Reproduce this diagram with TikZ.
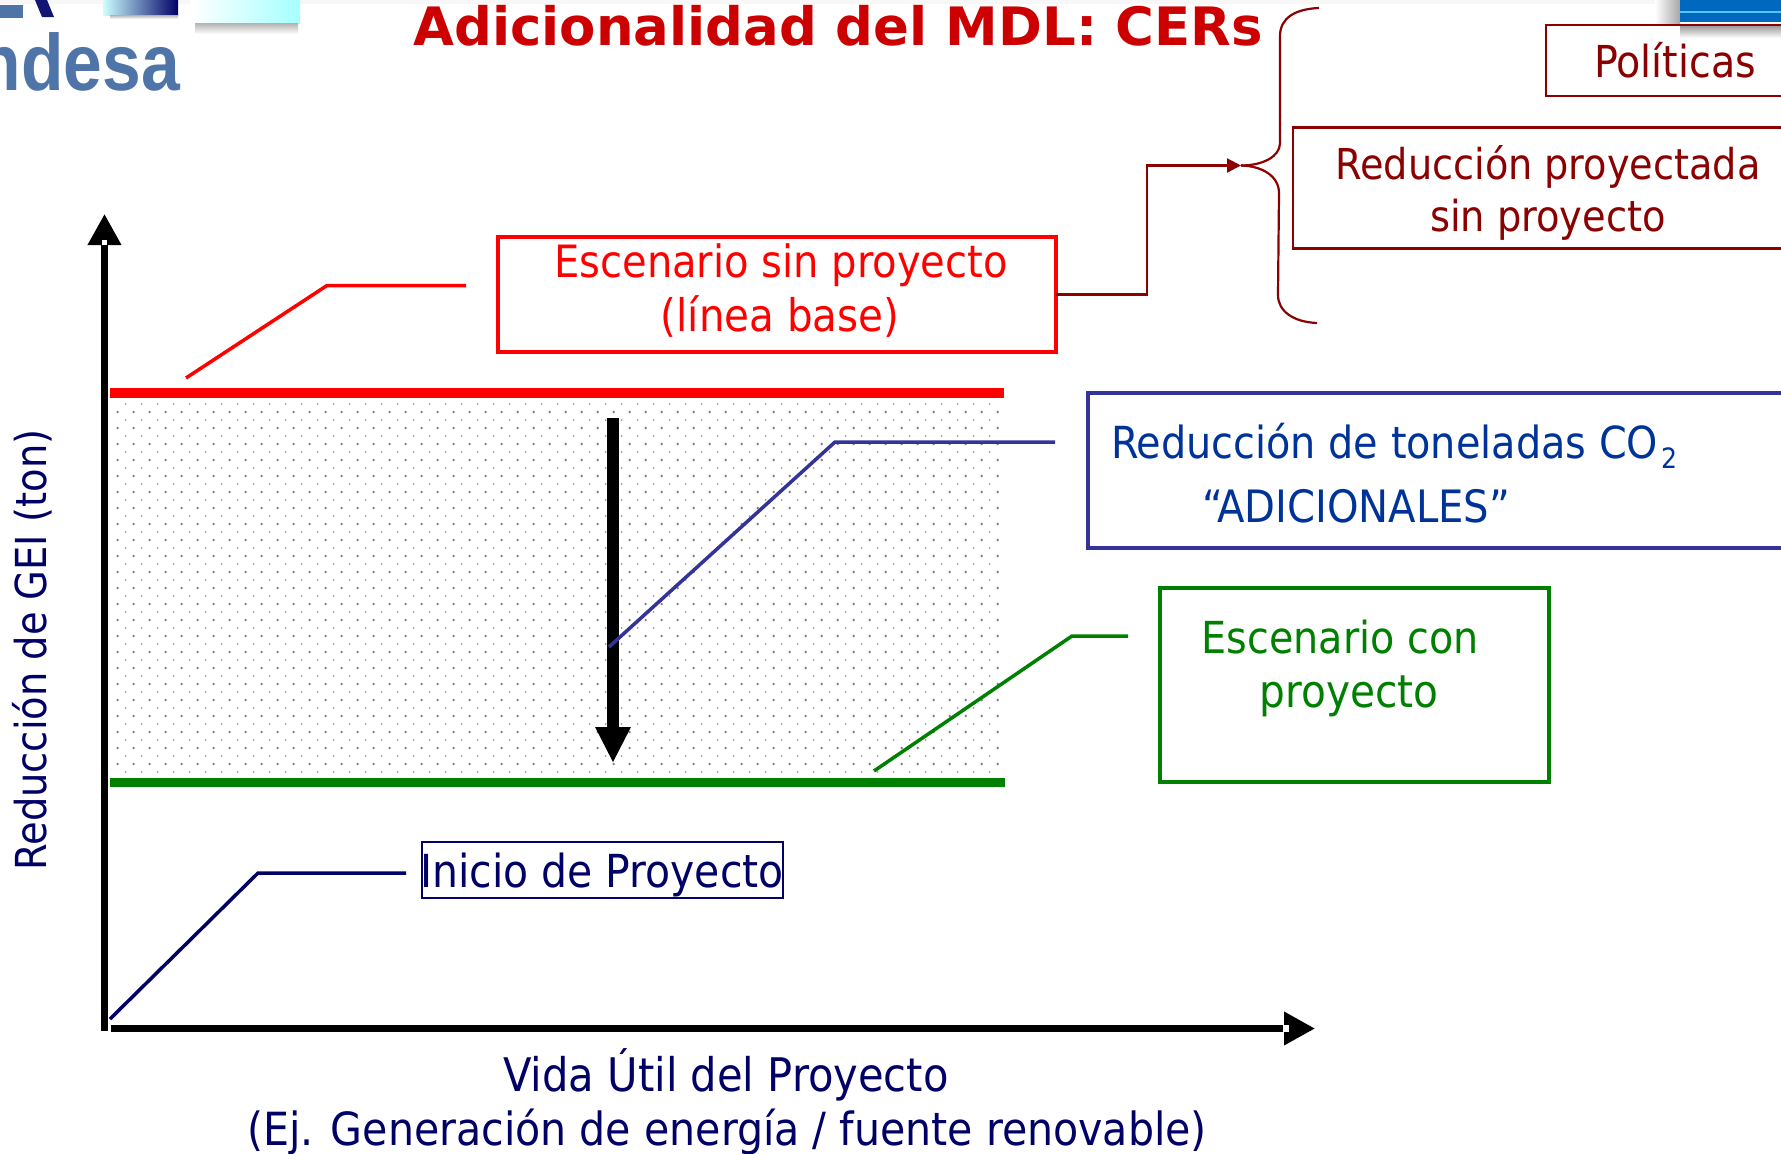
\documentclass[tikz,border=0pt]{standalone}
\usepackage{fontspec}
\setmainfont{DejaVu Sans Condensed}
\newfontfamily\titlefont{DejaVu Sans}
\newfontfamily\logofont{Liberation Sans}
\usetikzlibrary{arrows.meta,shadings}
\definecolor{cred}{HTML}{FF0000}
\definecolor{cgreen}{HTML}{008000}
\definecolor{cmaroon}{HTML}{8B0000}
\definecolor{cblue}{HTML}{333399}
\definecolor{ctextblue}{HTML}{003399}
\definecolor{cnavy}{HTML}{000066}
\definecolor{ctitle}{HTML}{CC0000}
\definecolor{clogo}{HTML}{4F74A8}
\newcommand{\fs}[1]{\fontsize{#1}{#1}\selectfont}
\tikzset{
  x=1pt,y=-1pt,
  lab/.style={inner sep=0pt,anchor=base},
  boxn/.style={draw,inner sep=0pt,outer sep=0pt,line width=3.3pt,anchor=north west},
  leader/.style={line width=3.5pt,line join=miter},
  axis/.style={line width=7pt,-{Triangle[length=31pt,width=32pt]},black},
}
\begin{document}
\begin{tikzpicture}
\clip (0,0) rectangle (1781,1154);
\fill[white] (0,0) rectangle (1781,1154);
\fill[black!3] (0,0) rectangle (1781,4);
% logo fragments
\fill[clogo] (0,5) rectangle (23,18);
\fill[cnavy!80!clogo] (35,0) -- (47,0) -- (54,17) -- (42,17) -- cycle;
\shade[left color=cyan!20!white,middle color=blue!50!cyan!70!black,right color=cnavy] (103,0) rectangle (178,15);
\shade[top color=black!30,bottom color=white] (110,15) rectangle (178,19);
\shade[left color=white,right color=cyan!35!white] (190,0) rectangle (300,23);
\shade[top color=black!30,bottom color=white] (195,23) rectangle (298,34);
\node[inner sep=0pt,anchor=base east,text=clogo] (logo) at (180,90) {\logofont\bfseries\fs{80}\scalebox{0.87}[1]{ndesa}};
% top-right image
\shade[left color=white,right color=black!35] (1655,0) rectangle (1680,24);
\fill[blue!45!cyan!75!black] (1680,0) rectangle (1781,22);
\fill[blue!35!cyan!65!white] (1680,11) rectangle (1781,13);
\shade[top color=black!45,bottom color=white] (1680,24) rectangle (1781,38);
% dotted field
\foreach \i in {0,...,55}{\foreach \j in {0,...,22}{
  \fill[black!50] (117.7+16*\i,412+16*\j) circle (1.3);
}}
\foreach \i in {0,...,54}{\foreach \j in {0,...,23}{
  \fill[black!40] (125.7+16*\i,404+16*\j) circle (1);
}}
% title
\node[lab,text=ctitle] (title) at (838,45) {\titlefont\bfseries\fs{52.9}Adicionalidad del MDL: CERs};
% axes
\coordinate (orig) at (104.5,1031);
\coordinate (ytip) at (104.5,214);
\coordinate (xstart) at (110.7,1028.5);
\coordinate (xtip) at (1315,1028.5);
\draw[axis] (orig) -- (ytip);
\fill[white] (102,240) rectangle (107,245);
\draw[axis] (xstart) -- (xtip);
\fill[white] (1283,1025.2) rectangle (1289,1031.8);
% level lines
\coordinate (ra) at (110,393); \coordinate (rb) at (1004,393);
\coordinate (ga) at (110,782.5); \coordinate (gb) at (1005,782.5);
\draw[cred,line width=9.5pt] (ra) -- (rb);
\draw[cgreen,line width=9.5pt] (ga) -- (gb);
% down arrow
\coordinate (da) at (613,418); \coordinate (db) at (613,763);
\draw[line width=12pt,-{Triangle[length=36pt,width=33pt]},black] (da) -- (db);
% boxes
\node[boxn,draw=cred,minimum width=558pt,minimum height=115pt] (base) at (498,237) {};
\node[lab,text=cred] (t1) at (781,277) {\fs{44.5}Escenario sin proyecto};
\node[lab,text=cred] (t2) at (780,331) {\fs{44.9}(línea base)};
\node[boxn,draw=cblue,line width=3.5pt,minimum width=710pt,minimum height=155pt] (red) at (1088,393) {};
\node[lab,text=ctextblue,anchor=base west] (t3) at (1111,458) {\fs{44.2}Reducción de toneladas CO\kern3pt\raisebox{-10pt}{\fs{28}2}};
\node[lab,text=ctextblue,anchor=base west] (t4) at (1202,522) {\fs{44.6}“ADICIONALES”};
\node[boxn,draw=cgreen,minimum width=389pt,minimum height=194pt] (con) at (1160,588) {};
\node[lab,text=cgreen] (t5) at (1340,653) {\fs{44.1}Escenario con};
\node[lab,text=cgreen] (t6) at (1349,707.5) {\fs{45.2}proyecto};
\node[boxn,draw=cnavy,line width=2pt,minimum width=361pt,minimum height=56pt] (ini) at (422,842) {};
\node[lab,text=cnavy] (t7) at (602,887) {\fs{45.5}Inicio de Proyecto};
\node[boxn,draw=cmaroon,line width=2.5pt,minimum width=320pt,minimum height=71pt] (pol) at (1546,25) {};
\node[lab,text=cmaroon] (t8) at (1675,77) {\fs{44}Políticas};
\node[boxn,draw=cmaroon,line width=2.5pt,minimum width=530pt,minimum height=121pt] (sin) at (1293,127.5) {};
\node[lab,text=cmaroon] (t9) at (1548,179) {\fs{42.5}Reducción proyectada};
\node[lab,text=cmaroon] (t10) at (1548,231) {\fs{42.7}sin proyecto};
% leaders
\coordinate (l1a) at (186,378); \coordinate (l1b) at (327,285.5); \coordinate (l1c) at (466,285.5);
\draw[leader,cred] (l1a) -- (l1b) -- (l1c);
\coordinate (l2a) at (609,647); \coordinate (l2b) at (835,442); \coordinate (l2c) at (1055,442);
\draw[leader,cblue] (l2a) -- (l2b) -- (l2c);
\coordinate (l3a) at (874,771); \coordinate (l3b) at (1072,636); \coordinate (l3c) at (1128,636);
\draw[leader,cgreen] (l3a) -- (l3b) -- (l3c);
\coordinate (l4a) at (110,1019); \coordinate (l4b) at (258,873); \coordinate (l4c) at (406,873);
\draw[leader,cnavy] (l4a) -- (l4b) -- (l4c);
% brace and connector
\coordinate (btip) at (1241,165.5);
\coordinate (btop) at (1319,8);
\coordinate (bbot) at (1317,323);
\draw[cmaroon,line width=2.2pt] (btop) .. controls (1295,9) and (1280,18) .. (1280,36) -- (1280,143) .. controls (1280,157) and (1262,165.5) .. (btip);
\draw[cmaroon,line width=2.2pt] (bbot) .. controls (1293,322) and (1278,311) .. (1278,295) -- (1279,193) .. controls (1279,176) and (1262,166) .. (btip);
\draw[cmaroon,line width=2.2pt,-{Triangle[length=14pt,width=14pt]}] (base.east) -| (1147,165.5) -- (btip);
% axis labels
\node[inner sep=0pt,text=cnavy,rotate=90] (t11) at (32,650) {\fs{42.7}Reducción de GEI (ton)};
\node[lab,text=cnavy] (t12) at (726,1091) {\fs{46.3}Vida Útil del Proyecto};
\node[lab,text=cnavy] (t13) at (727,1145) {\fs{45.7}(Ej. Generación de energía / fuente renovable)};
\end{tikzpicture}
\end{document}
